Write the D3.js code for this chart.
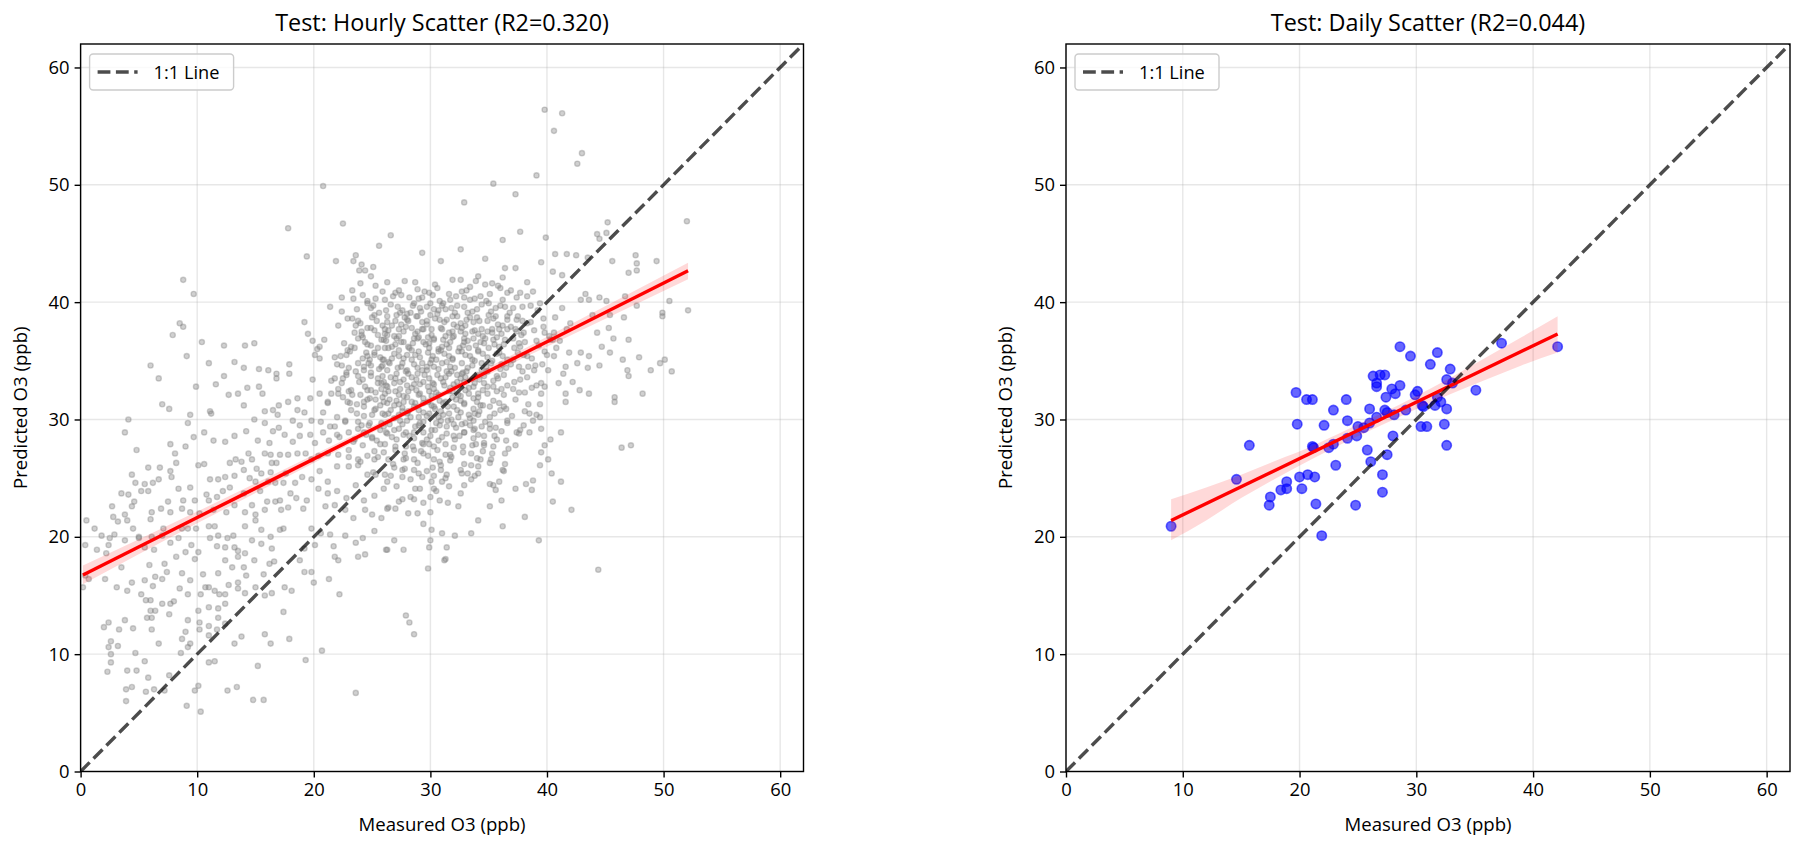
<!DOCTYPE html>
<html>
<head>
<meta charset="utf-8">
<script src="https://cdn.jsdelivr.net/npm/d3@7"></script>
<style>
  body { margin: 0; background: #fff; }
  svg text { font-family: "Open Sans", "Noto Sans", sans-serif; fill: #000; }
</style>
</head>
<body>
<svg></svg>
<script>
// ---- data ----
const axisTicks = [0, 10, 20, 30, 40, 50, 60]

const panelTitles = ["Test: Hourly Scatter (R2=0.320)", "Test: Daily Scatter (R2=0.044)"]

// hourly test set: [measured, predicted]
const hourlyPoints = [
  [4.1,30.0],[9.2,29.7],[3.8,28.9],[4.8,27.4],[7.7,27.9],[9.0,27.7],[9.7,28.5],[10.6,28.9],[11.4,28.2],[12.4,28.1],[13.2,28.6],[14.2,29.0],[14.9,30.0],[15.2,28.2],[16.2,28.0],[14.4,27.1],[16.5,29.0],[17.5,28.7],[18.2,28.1],[18.8,28.6],[19.7,28.7],[20.1,28.0],[20.8,28.9],[21.3,28.2],[22.0,28.7],[23.0,28.9],[23.5,28.3],[24.3,28.9],[25.0,28.4],[25.7,27.9],[26.2,28.9],[18.2,29.9],[18.8,29.5],[19.8,29.9],[20.6,29.8],[21.8,29.4],[22.7,29.9],[23.8,29.8],[24.7,29.5],[25.8,29.7],[17.0,29.3],[15.8,29.7],
  [8.1,27.1],[8.2,26.3],[10.1,26.1],[10.6,26.2],[12.8,26.3],[13.3,26.6],[13.8,26.4],[14.7,26.6],[15.1,25.8],[15.8,27.1],[16.3,27.0],[16.4,26.3],[16.8,26.3],[15.5,25.4],[16.3,25.5],[17.1,27.0],[17.8,27.0],[18.6,27.1],[19.3,27.1],[19.8,26.6],[20.4,26.9],[21.2,27.1],[22.1,27.0],[23.0,26.8],[23.8,26.6],[24.6,26.9],[25.2,26.6],[26.0,27.2],[26.4,26.6],[16.7,24.6],[17.6,25.4],[18.4,24.6],[19.0,25.1],[19.8,24.9],[20.5,25.6],[21.2,24.7],[22.0,26.0],[23.0,26.0],[23.8,26.1],[24.6,25.3],[25.3,25.3],[26.1,25.3],[4.4,25.3],[4.7,24.6],[5.8,25.9],[6.8,25.9],[7.7,25.6],[7.8,25.1],[11.1,24.9],[11.8,24.9],[12.4,25.1],[13.2,25.2],[14.0,25.7],[14.5,25.0],[15.0,24.7],
  [3.5,23.7],[4.1,23.6],[4.6,23.0],[4.4,22.6],[5.5,24.5],[6.2,24.6],[6.7,24.9],[5.2,23.9],[5.8,23.9],[7.5,23.0],[8.4,24.1],[9.4,24.2],[8.8,23.1],[9.8,23.1],[10.8,23.6],[11.0,23.1],[11.7,23.4],[12.2,23.9],[12.8,24.2],[13.2,22.7],[14.0,23.7],[14.7,22.7],[15.4,23.9],[16.0,23.0],[16.7,23.0],[17.1,23.1],[18.0,23.7],[18.5,23.3],[19.4,23.1],[16.1,24.7],[17.4,24.6],[20.4,24.1],[21.2,23.7],[22.0,23.9],[22.8,23.3],[23.6,24.4],[24.3,23.1],[25.2,23.5],[26.0,24.1],[2.7,22.6],[3.8,21.9],[6.1,22.1],[6.9,22.4],[7.7,22.1],[8.7,22.4],[9.4,22.1],[10.2,22.0],[11.4,22.3],[12.5,22.1],[14.1,22.1],[15.0,21.9],[15.8,22.3],[17.2,22.3],[17.8,22.5],[19.1,22.4],[21.0,22.6],[21.8,22.7],[22.7,22.3],[23.4,21.6],[24.4,22.3],[25.0,21.9],[25.8,21.6],[26.4,22.5],
  [0.5,21.4],[1.2,20.7],[1.8,20.1],[2.5,19.9],[2.8,21.7],[3.2,21.3],[4.0,21.4],[4.5,20.7],[5.0,20.0],[6.0,21.5],[6.1,20.0],[7.1,20.7],[7.7,19.5],[8.7,20.7],[9.2,20.7],[9.9,20.7],[11.0,20.9],[11.5,20.9],[11.8,20.1],[12.6,19.9],[13.1,20.1],[14.1,20.9],[15.0,21.4],[15.5,20.6],[16.3,20.0],[17.1,20.6],[17.4,20.7],[19.8,20.7],[20.6,20.3],[21.4,20.2],[22.7,20.1],[23.6,19.5],[24.2,19.9],[25.2,20.5],[26.3,18.9],[0.4,19.3],[1.4,18.9],[2.4,19.3],[2.9,20.2],[3.8,19.7],[5.0,19.9],[5.5,19.1],[6.3,18.9],[7.0,20.1],[8.4,19.9],[9.5,19.3],[10.1,18.7],[11.1,19.9],[11.7,19.2],[12.4,19.1],[13.2,19.1],[13.5,18.8],[14.1,18.6],[14.7,19.7],[15.5,19.4],[16.4,19.0],[19.2,19.0],[20.1,19.3],[21.7,19.2],
  [0.4,16.7],[0.7,16.4],[0.2,15.7],[2.1,16.4],[2.2,18.6],[3.1,15.7],[3.5,17.4],[4.4,16.1],[5.2,15.1],[5.5,16.3],[5.9,17.6],[6.2,15.8],[6.4,16.6],[7.0,16.4],[7.2,17.7],[7.4,17.0],[8.2,18.3],[8.7,16.9],[9.0,18.7],[9.4,16.3],[9.8,18.1],[10.5,16.8],[11.0,15.7],[11.8,16.9],[12.4,18.0],[13.0,17.4],[13.5,18.3],[14.0,17.4],[14.2,16.7],[14.9,18.0],[15.7,16.8],[16.2,17.7],[16.6,17.9],[18.8,18.0],[19.2,17.0],[19.8,17.0],[20.0,16.1],[21.3,16.4],[21.8,18.3],[22.1,18.0],[23.8,18.3],[24.4,18.5],[12.7,15.9],[13.5,16.1],
  [4.0,15.4],[5.6,14.6],[6.0,14.6],[7.0,14.3],[7.7,14.3],[8.0,14.5],[8.5,15.6],[9.2,15.1],[10.3,15.1],[10.7,15.7],[11.0,14.0],[11.5,15.4],[11.9,15.1],[12.4,15.1],[13.5,15.6],[14.1,15.2],[15.0,15.7],[15.8,15.0],[16.4,15.2],[17.5,15.7],[18.1,15.4],[22.2,15.1],[6.0,13.7],[6.4,13.7],[7.6,13.4],[5.7,13.1],[6.1,13.1],[9.2,12.9],[10.1,13.7],[11.8,13.1],[11.8,13.9],[17.4,13.6],[12.4,14.3],
  [2.0,12.3],[2.4,12.7],[3.3,12.1],[3.8,12.9],[4.5,12.2],[2.6,11.1],[2.4,10.6],[3.2,10.7],[4.7,10.1],[6.1,12.1],[6.7,10.9],[8.7,11.3],[9.0,11.9],[9.2,10.6],[9.4,10.9],[10.2,12.7],[10.2,12.1],[11.0,12.4],[11.0,11.6],[11.7,12.1],[12.4,12.6],[13.2,10.9],[13.8,11.5],[15.8,11.7],[16.3,10.9],[17.9,11.3],[20.7,10.3],
  [2.6,10.0],[2.6,9.3],[2.3,8.5],[4.0,8.6],[4.8,8.6],[5.5,9.4],[5.8,8.0],[7.6,8.2],[8.6,10.1],[11.0,9.3],[11.5,9.4],[15.2,9.0],[19.3,9.5],[3.9,7.0],[4.4,7.2],[5.6,6.8],[6.3,7.0],[7.2,6.9],[9.8,6.9],[10.1,7.3],[12.6,6.9],[13.4,7.2],[23.6,6.7],
  [3.9,6.0],[9.1,5.6],[10.3,5.1],[14.8,6.1],[15.7,6.1],
  [46.4,27.6],[47.2,27.8],[44.4,17.2],[42.1,22.3],[40.5,23.0],[41.2,24.7],[40.4,25.4],[40.1,26.6],[39.4,26.1],[39.5,27.2],[39.8,27.8],[40.3,28.3],[41.2,28.9],[39.5,29.2],[38.5,28.9],[38.8,29.9],[38.0,29.5],[37.3,27.8],[37.4,28.9],[36.7,27.5],[38.8,24.8],[38.2,24.5],[38.7,24.0],[37.3,24.1],[38.1,21.7],[39.3,19.7],[36.2,20.9],[36.1,23.1],[35.1,22.6],[35.6,24.0],[35.9,24.7],[35.1,24.5],[35.4,24.4],[36.3,25.6],[36.4,26.2],[36.2,25.7],[35.3,27.1],[35.2,26.6],[35.7,28.3],[36.1,29.0],[34.1,21.4],[33.5,20.3],[32.1,20.1],[32.4,22.6],[32.6,23.7],[32.9,24.4],[33.5,24.9],[34.1,25.4],[33.2,25.4],[32.7,25.4],[34.1,26.0],[33.5,26.1],[34.3,26.6],[33.5,27.1],[33.9,27.9],[34.6,27.8],[32.8,27.7],[31.7,27.0],[31.7,26.5],[30.9,26.1],[30.3,25.2],[31.0,24.7],[31.6,24.3],[30.5,23.9],[30.0,23.4],[30.8,23.1],[31.5,22.9],[30.0,22.1],[29.4,21.1],[30.1,20.6],[31.0,20.3],[30.0,19.7],[29.9,19.1],[31.4,19.1],[31.3,18.1],[31.2,18.0],[29.8,17.3],[27.9,13.3],[28.2,12.7],[28.6,11.7],[26.9,19.7],[27.7,18.9],[26.2,18.9],
  [26.3,24.7],[27.1,24.3],[27.6,25.1],[28.3,24.9],[28.7,24.1],[29.1,24.1],[28.3,23.4],[28.6,23.2],[29.4,22.9],[27.6,23.2],[27.3,23.0],[27.0,22.4],[26.3,22.4],[28.1,22.0],[28.9,22.0],[28.6,25.7],[29.3,25.1],[29.7,25.6],[30.1,24.7],[30.3,24.1],[30.9,25.7],[31.3,25.0],[26.9,25.9],[27.6,25.7],[27.7,26.6],[28.6,26.6],[29.4,27.1],[30.3,26.6],[27.0,27.7],[27.9,27.7],[28.6,27.4],[29.4,27.9],[30.3,27.7],[31.3,27.9],[32.0,28.6],[32.9,28.9],[33.7,29.1],[34.4,29.4],[35.1,29.6],[32.7,29.6],[31.4,29.4],[30.4,29.1],[29.4,28.9],[28.6,28.9],[27.7,28.7],[26.9,29.1],[29.1,29.7],[30.9,29.9],[33.7,29.9],[36.6,29.9],[27.4,29.9],[34.6,28.6],
  [20.8,49.9],[17.8,46.3],[22.5,46.7],[19.4,43.9],[21.9,43.5],[23.6,44.0],[23.4,43.5],[24.1,43.2],[23.9,42.7],[24.4,42.7],[25.1,43.0],[25.6,44.8],[26.6,45.7],[24.9,42.2],[24.0,41.6],[26.3,41.7],[23.3,41.0],[23.4,40.3],[22.4,40.4],[24.6,39.9],[25.1,39.7],[25.3,40.3],[21.4,39.6],[22.4,39.2],[23.3,38.6],[23.8,38.4],[25.2,38.9],[19.2,38.3],[22.1,38.0],[24.9,37.8],[25.9,38.0],[24.1,37.5],[19.5,37.3],[19.9,36.7],[20.9,36.8],[20.5,36.2],[20.3,36.0],[20.1,35.5],[20.5,35.2],[22.0,34.7],[22.3,35.4],[22.9,35.9],[23.5,36.1],[24.2,37.0],[24.6,36.4],[25.2,35.5],[26.1,36.1],[26.3,37.2],[23.8,34.8],[22.8,34.0],[23.8,33.7],[24.3,34.2],[24.9,34.6],[25.9,33.7],[25.8,34.5],[21.8,33.5],[22.4,33.1],[21.5,32.2],[22.1,32.2],[23.2,32.5],[24.0,32.1],[24.9,32.5],[26.1,32.2],[19.9,33.4],[20.5,32.2],[19.7,31.8],[21.2,31.5],[23.1,31.4],[24.3,31.1],[25.2,30.8],[25.9,30.5],[18.6,31.8],[17.8,31.5],[18.6,30.8],[19.2,30.6],[17.9,34.7],[17.9,33.9],[16.8,33.9],[16.8,33.5],[16.1,34.2],[15.3,34.3],[14.0,34.4],[13.2,34.9],[14.9,36.5],[14.1,36.3],[12.3,36.3],[10.4,36.6],[8.8,41.9],[9.7,40.7],[8.5,38.2],[8.8,37.9],[7.9,37.2],[9.1,35.4],[6.0,34.6],[6.7,33.5],[11.0,34.8],[12.3,33.7],[11.6,33.0],[9.9,32.8],[12.7,32.1],[13.5,32.2],[14.3,32.7],[15.3,32.8],[15.6,32.2],[14.0,31.2],[15.8,30.7],[16.5,30.8],[17.0,31.2],[16.9,30.4],[7.0,31.3],[7.6,30.9],[9.4,30.4],[11.1,30.7],[11.2,30.5],
  [26.2,36.7],[26.5,34.8],[25.5,33.1],[26.3,32.8],[25.3,31.7],[24.6,31.7],[26.3,31.4],[24.5,35.7],[24.8,35.1],[24.9,34.0],
  [39.8,56.4],[41.3,56.1],[40.6,54.6],[43.0,52.7],[42.6,51.8],[39.1,50.8],[35.4,50.1],[37.3,49.2],[32.9,48.5],[52.0,46.9],[45.2,46.8],[44.3,45.8],[45.1,45.9],[44.5,45.4],[37.7,46.0],[39.9,45.5],[36.2,45.3],[32.6,44.5],[29.3,44.2],[30.9,43.5],[34.7,43.7],[40.7,44.1],[41.7,44.1],[42.5,44.0],[43.5,43.8],[45.6,43.5],[47.6,44.0],[47.7,43.3],[47.7,42.7],[47.0,42.5],[49.4,43.5],[39.5,43.4],[37.3,42.9],[36.4,42.9],[40.5,42.6],[41.3,42.3],[38.3,41.7],[33.9,41.8],[32.6,41.9],[28.7,41.7],[27.3,41.0],[29.9,40.8],[29.3,40.4],[34.7,41.5],[35.3,41.6],[35.8,41.4],[36.2,42.1],[36.6,40.8],[36.9,41.0],[37.7,40.8],[38.3,40.5],[39.4,39.9],[42.9,40.2],[43.3,40.7],[43.6,40.2],[44.5,40.4],[45.1,40.1],[46.7,40.5],[47.7,39.7],[50.5,40.1],[52.1,39.3],[49.9,39.1],[49.9,38.8],[43.9,38.9],[45.4,38.9],[46.6,38.7],[45.3,37.8],[44.3,37.4],[45.7,36.9],[47.0,36.8],[44.7,36.2],[45.4,35.7],[43.6,35.4],[42.9,35.7],[46.5,35.1],[47.9,35.3],[50.1,35.1],[49.7,34.8],[50.7,34.1],[48.9,34.2],[46.9,34.2],[47.0,33.7],[44.5,34.6],[43.5,34.4],[42.6,34.8],[41.6,34.5],[41.4,33.9],[41.9,35.7],[42.2,33.2],[41.0,33.1],[42.8,32.5],[43.6,32.2],[45.8,31.9],[45.8,31.5],[48.2,32.2],[41.6,32.2],[41.6,31.5],[39.8,32.8],[39.1,32.9],[39.5,32.2],[39.4,31.3],[38.5,30.5],[39.1,30.4],[38.1,32.3],[37.1,32.6],[36.3,32.1],[36.5,30.9],[35.1,31.1],[40.6,35.4],[40.8,36.1],[40.0,35.5],[41.1,36.7],[40.6,37.4],[41.7,37.7],[42.0,38.2],[41.3,39.5],[40.7,38.7],[39.7,37.9],[39.8,37.4],[40.3,36.8],[39.1,36.7],[39.6,34.7],[38.9,34.2],[38.3,35.4],[37.6,34.5],[37.1,35.1],[37.7,36.2],[37.1,36.9],[37.3,37.7],[38.0,37.4],[38.3,38.2],[37.4,38.5],[36.6,38.8],[38.6,39.7],[37.1,39.5],[36.0,39.7],[35.6,38.8],
  [28.6,39.9],[27.4,39.1],[31.1,39.9],[31.7,40.2],[32.9,40.4],[33.4,40.2],[34.3,40.5],[35.0,39.9],[32.3,39.7],[30.3,39.4],[29.1,39.5],
  [26.3,38.8],[27.0,38.4],[28.0,38.5],[28.9,38.8],[29.7,38.4],[30.6,39.0],[31.4,38.5],[32.3,38.8],[33.1,38.5],[34.0,38.7],[34.9,38.4],[35.9,37.7],[26.1,37.7],[27.3,37.7],[28.4,37.8],[29.3,37.7],[30.1,37.7],[31.0,37.7],[31.9,37.5],[32.7,37.8],[33.6,37.5],[34.4,37.7],[35.3,37.4],[36.6,37.7],
  [26.0,36.8],[26.9,37.1],[27.7,36.6],[28.6,36.9],[29.4,36.6],[30.3,36.9],[31.1,36.8],[32.0,37.1],[32.9,36.6],[33.7,36.9],[34.6,36.5],[35.4,36.8],[36.3,36.4],[26.4,36.1],[27.3,35.9],[28.1,36.2],[29.0,35.8],[29.9,36.1],[30.7,35.8],[31.6,36.1],[32.4,35.8],[33.3,36.1],[34.1,35.8],[35.0,36.1],[35.9,35.7],
  [25.9,35.1],[26.7,35.2],[27.6,34.8],[28.4,35.1],[29.3,34.8],[30.1,35.1],[31.0,34.8],[31.9,35.1],[32.7,34.8],[33.6,35.1],[34.4,34.8],[35.3,35.0],[36.1,34.7],[26.3,34.2],[27.1,33.9],[28.0,34.2],[28.9,33.9],[29.7,34.2],[30.6,33.8],[31.4,34.1],[32.3,33.8],[33.1,34.1],[34.0,33.8],[34.9,34.1],[35.7,33.7],
  [26.0,33.2],[26.9,33.1],[27.7,33.4],[28.6,33.0],[29.4,33.2],[30.3,33.0],[31.1,33.2],[32.0,33.0],[32.9,33.2],[33.7,32.8],[34.6,33.1],[35.4,32.8],[26.4,32.4],[27.3,32.1],[28.1,32.4],[29.0,32.1],[29.9,32.4],[30.7,32.1],[31.6,32.4],[32.4,32.1],[33.3,32.2],[34.1,31.9],[34.9,32.2],
  [26.0,31.5],[26.9,31.2],[27.7,31.5],[28.6,31.1],[29.4,31.4],[30.3,31.1],[31.1,31.4],[32.0,31.1],[32.9,31.4],[33.7,30.9],[34.3,31.2],[26.4,30.5],[27.3,30.4],[28.1,30.7],[29.0,30.2],[29.9,30.5],[30.7,30.2],[31.6,30.5],[32.4,30.2],[33.3,30.4],[34.1,30.4],
  [25.3,41.4],[27.8,41.8],[30.6,41.2],[31.9,41.9],[33.4,41.3],[28.9,41.1],[34.1,42.2],
  [24.2,40.6],[26.1,40.2],[27.0,40.8],[28.2,40.4],[29.5,40.9],[30.8,40.1],[31.6,40.7],[32.7,40.9],[33.8,40.3],[35.1,40.7],[36.2,40.2],[37.4,40.4],[38.8,40.9],[26.8,40.5],[30.2,40.6],
  [23.7,39.4],[25.6,39.1],[26.6,39.8],[27.6,39.3],[28.5,39.7],[29.2,39.2],[30.0,39.9],[31.3,39.4],[32.1,39.1],[32.9,39.6],[33.6,39.2],[34.4,39.8],[35.6,39.5],[36.8,39.1],[37.9,39.6],[39.2,39.3],[28.0,39.0],[31.0,39.7],
  [22.9,38.6],[24.0,38.2],[25.0,38.7],[26.3,38.3],[27.1,38.9],[28.1,38.4],[28.8,38.8],[29.7,38.1],[30.4,38.6],[31.2,38.3],[31.9,38.8],[32.6,38.2],[33.4,38.7],[34.2,38.4],[35.0,38.9],[35.8,38.1],[36.6,38.5],[37.5,38.8],[38.6,38.3],[39.7,38.6],[27.5,38.1],[30.0,38.9],[33.0,38.0],
  [23.5,37.4],[24.6,37.8],[25.5,37.2],[26.4,37.6],[27.3,37.1],[27.9,37.9],[28.7,37.3],[29.4,37.7],[30.1,37.2],[30.9,37.8],[31.6,37.4],[32.3,37.9],[33.0,37.3],[33.8,37.6],[34.5,37.1],[35.3,37.7],[36.1,37.3],[36.9,37.9],[37.8,37.2],[38.9,37.6],[40.2,37.1],[29.0,37.0],[31.9,37.0],[34.9,37.5],
  [22.6,36.5],[23.8,36.9],[24.9,36.3],[25.8,36.8],[26.7,36.2],[27.5,36.6],[28.2,36.1],[28.9,36.9],[29.6,36.4],[30.3,36.8],[31.0,36.2],[31.7,36.6],[32.5,36.1],[33.2,36.7],[33.9,36.3],[34.7,36.9],[35.5,36.4],[36.4,36.8],[37.2,36.1],[38.1,36.6],[39.3,36.3],[40.5,36.8],[27.1,36.9],[30.7,36.0],[32.9,36.9],
  [21.8,35.3],[23.1,35.8],[24.2,35.2],[25.2,35.7],[26.0,35.1],[26.9,35.6],[27.7,35.2],[28.4,35.9],[29.1,35.3],[29.8,35.7],[30.5,35.1],[31.2,35.6],[31.9,35.2],[32.7,35.8],[33.4,35.4],[34.1,35.9],[34.9,35.3],[35.7,35.6],[36.6,35.1],[37.5,35.7],[38.7,35.2],[39.8,35.8],[28.0,35.5],[30.9,35.9],[33.8,35.0],
  [22.4,34.6],[23.6,34.1],[24.7,34.8],[25.6,34.3],[26.4,34.9],[27.2,34.4],[27.9,34.1],[28.6,34.7],[29.3,34.2],[30.0,34.8],[30.7,34.3],[31.4,34.9],[32.1,34.4],[32.8,34.0],[33.6,34.6],[34.4,34.2],[35.2,34.8],[36.0,34.3],[36.9,34.7],[37.9,34.1],[39.0,34.6],[40.1,34.2],[29.7,34.5],[31.8,34.1],
  [21.5,33.3],[22.8,33.8],[23.9,33.2],[24.9,33.7],[25.8,33.1],[26.6,33.6],[27.4,33.2],[28.1,33.9],[28.8,33.4],[29.5,33.8],[30.2,33.1],[30.9,33.5],[31.6,33.9],[32.3,33.2],[33.0,33.6],[33.8,33.1],[34.6,33.7],[35.4,33.3],[36.3,33.8],[37.2,33.2],[38.3,33.6],[39.5,33.1],[29.1,33.0],[32.7,33.9],
  [22.1,32.6],[23.3,32.1],[24.4,32.8],[25.3,32.3],[26.2,32.9],[27.0,32.4],[27.7,32.0],[28.4,32.7],[29.1,32.2],[29.8,32.8],[30.5,32.3],[31.2,32.9],[31.9,32.4],[32.6,32.0],[33.3,32.7],[34.1,32.2],[34.9,32.8],[35.7,32.4],[36.6,32.9],[37.6,32.3],[38.7,32.7],[30.1,32.0],[28.0,32.9],
  [21.2,31.4],[22.5,31.9],[23.7,31.3],[24.8,31.8],[25.7,31.2],[26.5,31.7],[27.3,31.3],[28.0,31.9],[28.7,31.4],[29.4,31.8],[30.1,31.2],[30.8,31.6],[31.5,31.1],[32.2,31.7],[32.9,31.3],[33.7,31.8],[34.5,31.2],[35.4,31.6],[36.3,31.1],[37.3,31.7],[38.4,31.3],[27.6,31.0],[31.9,31.9],
  [20.8,30.6],[22.0,30.2],[23.2,30.8],[24.3,30.3],[25.3,30.9],[26.1,30.4],[26.9,30.1],[27.6,30.7],[28.3,30.2],[29.0,30.8],[29.7,30.3],[30.4,30.9],[31.1,30.4],[31.8,30.0],[32.6,30.6],[33.4,30.1],[34.2,30.7],[35.1,30.2],[36.0,30.8],[37.0,30.3],[38.1,30.7],[39.4,30.2],
  [21.4,29.4],[22.7,29.8],[23.8,29.2],[24.8,29.7],[25.7,29.1],[26.5,29.6],[27.3,29.2],[28.0,29.9],[28.7,29.4],[29.4,29.8],[30.1,29.1],[30.8,29.5],[31.5,29.9],[32.2,29.3],[33.0,29.7],[33.8,29.2],[34.7,29.8],[35.6,29.3],[36.6,29.7],[37.7,29.1],
  [22.2,28.5],[23.4,28.1],[24.5,28.7],[25.4,28.2],[26.3,28.8],[27.1,28.3],[27.9,28.9],[28.6,28.4],[29.3,28.0],[30.0,28.6],[30.7,28.2],[31.4,28.8],[32.1,28.3],[32.9,28.9],[33.7,28.4],[34.6,28.0],[35.5,28.6],[36.5,28.2],[37.6,28.8],
  [23.0,27.4],[24.2,27.8],[25.2,27.3],[26.1,27.9],[27.0,27.4],[27.8,27.1],[28.5,27.7],[29.2,27.3],[29.9,27.9],[30.6,27.4],[31.3,27.0],[32.0,27.6],[32.8,27.2],[33.6,27.8],[34.5,27.3],[35.4,27.7],[36.4,27.1],
  [24.0,26.4],[25.5,26.8],[26.8,26.2],[27.9,26.7],[28.9,26.3],[29.8,26.9],[30.8,26.4],[31.8,26.8],[32.9,26.2],[34.0,26.7],[35.1,26.3],
  [25.1,25.5],[26.6,25.2],[27.8,25.8],[29.0,25.4],[30.2,25.9],[31.4,25.3],[32.6,25.7],[33.8,25.2],
  [24.6,40.1],[25.9,40.9],[27.5,40.6],[29.0,40.3],[30.4,41.5],[32.2,40.5],[33.1,41.0],[34.8,40.1],[36.0,41.2],
  [24.9,39.5],[26.2,39.3],[27.2,39.6],[28.3,39.1],[29.7,39.6],[30.7,39.3],[31.8,39.5],[33.2,39.1],[34.0,39.4],[35.2,39.2],[36.4,39.6],
  [23.6,38.0],[25.4,38.4],[26.7,38.0],[27.8,38.7],[29.3,38.3],[30.8,38.5],[32.0,38.1],[33.7,38.3],[35.4,38.6],[36.2,38.0],[37.9,38.4],
  [24.1,37.2],[25.2,37.6],[26.1,37.3],[27.7,37.5],[28.9,37.5],[29.8,37.0],[31.3,37.1],[32.6,37.5],[34.1,37.3],[35.7,37.0],[37.4,37.5],
  [23.2,36.2],[24.4,36.6],[25.5,36.1],[27.0,36.4],[28.5,36.5],[29.9,36.5],[31.4,36.4],[32.8,36.3],[34.3,36.6],[35.9,36.2],[37.6,36.5],
  [22.8,35.5],[24.6,35.4],[25.7,35.3],[27.3,35.4],[28.7,35.5],[30.2,35.4],[31.6,35.4],[33.0,35.5],[34.5,35.6],[36.2,35.4],[38.0,35.5],
  [23.0,34.4],[24.3,34.5],[25.9,34.6],[27.5,34.5],[28.9,34.4],[30.3,34.5],[31.7,34.5],[33.2,34.4],[34.8,34.5],[36.5,34.4],[38.4,34.5],
  [22.5,33.5],[24.2,33.4],[25.5,33.5],[27.0,33.5],[28.4,33.6],[29.9,33.5],[31.3,33.6],[32.6,33.5],[34.2,33.4],[35.8,33.5],[37.7,33.4],
  [23.0,32.4],[24.6,32.5],[25.8,32.6],[27.4,32.6],[28.8,32.5],[30.3,32.6],[31.7,32.7],[33.0,32.5],[34.5,32.5],[36.1,32.6],
  [22.9,31.5],[24.3,31.5],[25.9,31.9],[27.1,31.6],[28.4,31.5],[29.8,31.5],[31.3,31.5],[32.6,31.6],[34.0,31.5],[35.9,31.4],
  [23.7,30.5],[25.0,30.4],[26.6,30.8],[28.0,30.5],[29.4,30.6],[30.9,30.7],[32.3,30.8],[33.8,30.5],[35.5,30.5],
  [24.1,29.5],[26.0,29.4],[27.6,29.6],[29.0,29.5],[30.5,29.7],[32.0,29.6],[33.4,29.5],[35.1,29.2],
  [25.0,28.5],[26.7,28.5],[28.2,28.6],[29.7,28.3],[31.0,28.5],[32.5,28.6],[34.1,28.7]
]

// daily test set: [measured, predicted]
const dailyPoints = [
  [9.0,20.9],[14.6,24.9],[15.7,27.8],[17.5,23.4],[17.4,22.7],[18.4,24.0],[18.9,24.7],[18.9,24.1],[19.7,32.3],[19.8,29.6],[20.6,31.7],[21.1,31.7],[20.0,25.1],[20.2,24.1],[20.7,25.3],[21.3,25.1],[21.1,27.7],[21.2,27.6],[21.4,22.8],[21.9,20.1],[22.1,29.5],[22.9,30.8],[22.5,27.6],[22.9,27.9],[23.1,26.1],[24.0,31.7],[24.1,29.9],[24.1,28.4],[24.8,22.7],[24.9,28.6],[25.0,29.4],[25.5,29.3],[25.8,27.4],[26.0,30.9],[26.1,26.4],[26.0,29.7],
  [28.6,36.2],[29.5,35.4],[31.8,35.7],[31.2,34.7],[32.9,34.3],[32.6,33.4],[33.1,33.1],[35.1,32.5],[37.3,36.5],[42.1,36.2],
  [26.3,33.7],[26.9,33.8],[27.3,33.8],[26.6,33.1],[26.6,32.8],[27.9,32.6],[28.6,32.9],[27.4,31.9],[28.2,32.2],[30.1,32.4],[29.9,32.1],
  [27.3,30.8],[27.5,30.6],[28.1,30.4],[29.1,30.8],[26.6,30.2],[30.5,31.2],[30.6,31.1],[31.6,31.2],[32.1,31.5],[31.8,31.9],[32.6,30.9],
  [30.4,29.4],[30.9,29.4],[32.4,29.6],[32.6,27.8],[28.0,28.6],[27.5,27.0],[27.1,25.3],[27.1,23.8]
]

// fitted regression line and its confidence band
const hourlyFitX = [0.2, 52.1]
const hourlyFitY = [16.75, 42.67]
const hourlyBandX = [0.2, 10, 20, 30, 40, 52.1]
const hourlyBandLow = [15.95, 21.15, 26.3, 31.4, 36.2, 41.95]
const hourlyBandHigh = [17.55, 22.15, 27.0, 31.9, 37.05, 43.35]

const dailyFitX = [9.0, 42.1]
const dailyFitY = [21.39, 37.29]
const dailyBandX = [9, 12, 15, 18, 21, 24, 27, 30, 33, 36, 39, 42.1]
const dailyBandLow = [19.7, 21.4, 23.3, 25.0, 26.6, 28.1, 29.5, 30.9, 32.2, 33.4, 34.6, 35.7]
const dailyBandHigh = [23.2, 24.2, 25.3, 26.5, 27.7, 29.1, 30.5, 32.0, 33.6, 35.3, 37.0, 38.8]

const identityLine = [0, 62]

// ---- drawing ----
const svg = d3.select("svg")
  .attr("width", 1805)
  .attr("height", 849)

const drawPanel = function(opts) {
  const scaleX = d3.scaleLinear().domain([0, 62]).range([opts.left, opts.right])
  const scaleY = d3.scaleLinear().domain([0, 62]).range([771.5, 44])

  const g = svg.append("g")

  const clipId = "clip" + opts.id
  svg.append("clipPath").attr("id", clipId)
    .append("rect")
    .attr("x", opts.left).attr("y", 44)
    .attr("width", opts.right - opts.left).attr("height", 771.5 - 44)

  // grid
  const grid = g.append("g").attr("class", "grid")
  grid.selectAll("line.gx").data(axisTicks).enter().append("line")
    .attr("x1", d => scaleX(d)).attr("x2", d => scaleX(d))
    .attr("y1", 44).attr("y2", 771.5)
    .attr("stroke", "#b0b0b0").attr("stroke-opacity", 0.3).attr("stroke-width", 1.4)
  grid.selectAll("line.gy").data(axisTicks).enter().append("line")
    .attr("y1", d => scaleY(d)).attr("y2", d => scaleY(d))
    .attr("x1", opts.left).attr("x2", opts.right)
    .attr("stroke", "#b0b0b0").attr("stroke-opacity", 0.3).attr("stroke-width", 1.4)

  const plot = g.append("g").attr("clip-path", `url(#${clipId})`)

  // scatter
  plot.append("g").selectAll("circle")
    .data(opts.points)
    .enter()
    .append("circle")
    .attr("cx", d => scaleX(d[0]))
    .attr("cy", d => scaleY(d[1]))
    .attr("r", opts.radius)
    .attr("fill", opts.color).attr("fill-opacity", opts.alpha)
    .attr("stroke", opts.color).attr("stroke-opacity", opts.alpha)
    .attr("stroke-width", opts.edge)

  // confidence band
  const band = d3.area()
    .x((d, i) => scaleX(opts.bandX[i]))
    .y0((d, i) => scaleY(opts.bandLow[i]))
    .y1((d, i) => scaleY(opts.bandHigh[i]))
    .curve(d3.curveMonotoneX)
  plot.append("path")
    .attr("d", band(opts.bandX))
    .attr("fill", "red").attr("fill-opacity", 0.15)

  // fitted line
  const fit = d3.line()
    .x((d, i) => scaleX(opts.fitX[i]))
    .y((d, i) => scaleY(opts.fitY[i]))
  plot.append("path")
    .attr("d", fit(opts.fitX))
    .attr("fill", "none").attr("stroke", "red").attr("stroke-width", 3.4)

  // 1:1 line
  plot.append("line")
    .attr("x1", scaleX(identityLine[0])).attr("y1", scaleY(identityLine[0]))
    .attr("x2", scaleX(identityLine[1])).attr("y2", scaleY(identityLine[1]))
    .attr("stroke", "#000").attr("stroke-opacity", 0.7)
    .attr("stroke-width", 3.4).attr("stroke-dasharray", "12.8,5.5")

  // axes
  const axisX = d3.axisBottom(scaleX).tickValues(axisTicks).tickSizeInner(6).tickSizeOuter(0).tickPadding(5)
  const axisY = d3.axisLeft(scaleY).tickValues(axisTicks).tickSizeInner(6).tickSizeOuter(0).tickPadding(5)

  const gx = g.append("g").attr("transform", "translate(0, 771.5)").call(axisX)
  const gy = g.append("g").attr("transform", `translate(${opts.left}, 0)`).call(axisY)
  ;[gx, gy].forEach(a => {
    a.select(".domain").remove()
    a.selectAll(".tick line").attr("stroke", "#000").attr("stroke-width", 1.4)
    a.selectAll(".tick text").attr("font-size", 18.4).attr("fill", "#000")
  })

  // spines
  g.append("rect")
    .attr("x", opts.left).attr("y", 44)
    .attr("width", opts.right - opts.left).attr("height", 771.5 - 44)
    .attr("fill", "none").attr("stroke", "#000").attr("stroke-width", 1.4)

  // title and labels
  g.append("text")
    .attr("x", (opts.left + opts.right) / 2).attr("y", 31)
    .attr("text-anchor", "middle").attr("font-size", 23.4)
    .text(opts.title)

  g.append("text")
    .attr("x", (opts.left + opts.right) / 2).attr("y", 831)
    .attr("text-anchor", "middle").attr("font-size", 18.6)
    .text("Measured O3 (ppb)")

  g.append("text")
    .attr("transform", `translate(${opts.left - 54}, ${(44 + 771.5) / 2}) rotate(-90)`)
    .attr("text-anchor", "middle").attr("font-size", 18.6)
    .text("Predicted O3 (ppb)")

  // legend
  const legend = g.append("g").attr("transform", `translate(${opts.left + 9}, 54)`)
  legend.append("rect")
    .attr("width", 144).attr("height", 36).attr("rx", 3.5)
    .attr("fill", "#fff").attr("fill-opacity", 0.8)
    .attr("stroke", "#cccccc").attr("stroke-width", 1.4)
  legend.append("line")
    .attr("x1", 8).attr("x2", 48).attr("y1", 18).attr("y2", 18)
    .attr("stroke", "#000").attr("stroke-opacity", 0.7)
    .attr("stroke-width", 3.4).attr("stroke-dasharray", "12.8,5.5")
  legend.append("text")
    .attr("x", 64).attr("y", 24.5)
    .attr("font-size", 18.2)
    .text("1:1 Line")
}

drawPanel({
  id: "hourly", left: 80.6, right: 803.5, title: panelTitles[0],
  points: hourlyPoints, color: "gray", alpha: 0.37, radius: 2.6, edge: 1.4,
  fitX: hourlyFitX, fitY: hourlyFitY,
  bandX: hourlyBandX, bandLow: hourlyBandLow, bandHigh: hourlyBandHigh
})

drawPanel({
  id: "daily", left: 1066, right: 1790, title: panelTitles[1],
  points: dailyPoints, color: "blue", alpha: 0.6, radius: 4.7, edge: 1.6,
  fitX: dailyFitX, fitY: dailyFitY,
  bandX: dailyBandX, bandLow: dailyBandLow, bandHigh: dailyBandHigh
})
</script>
</body>
</html>
